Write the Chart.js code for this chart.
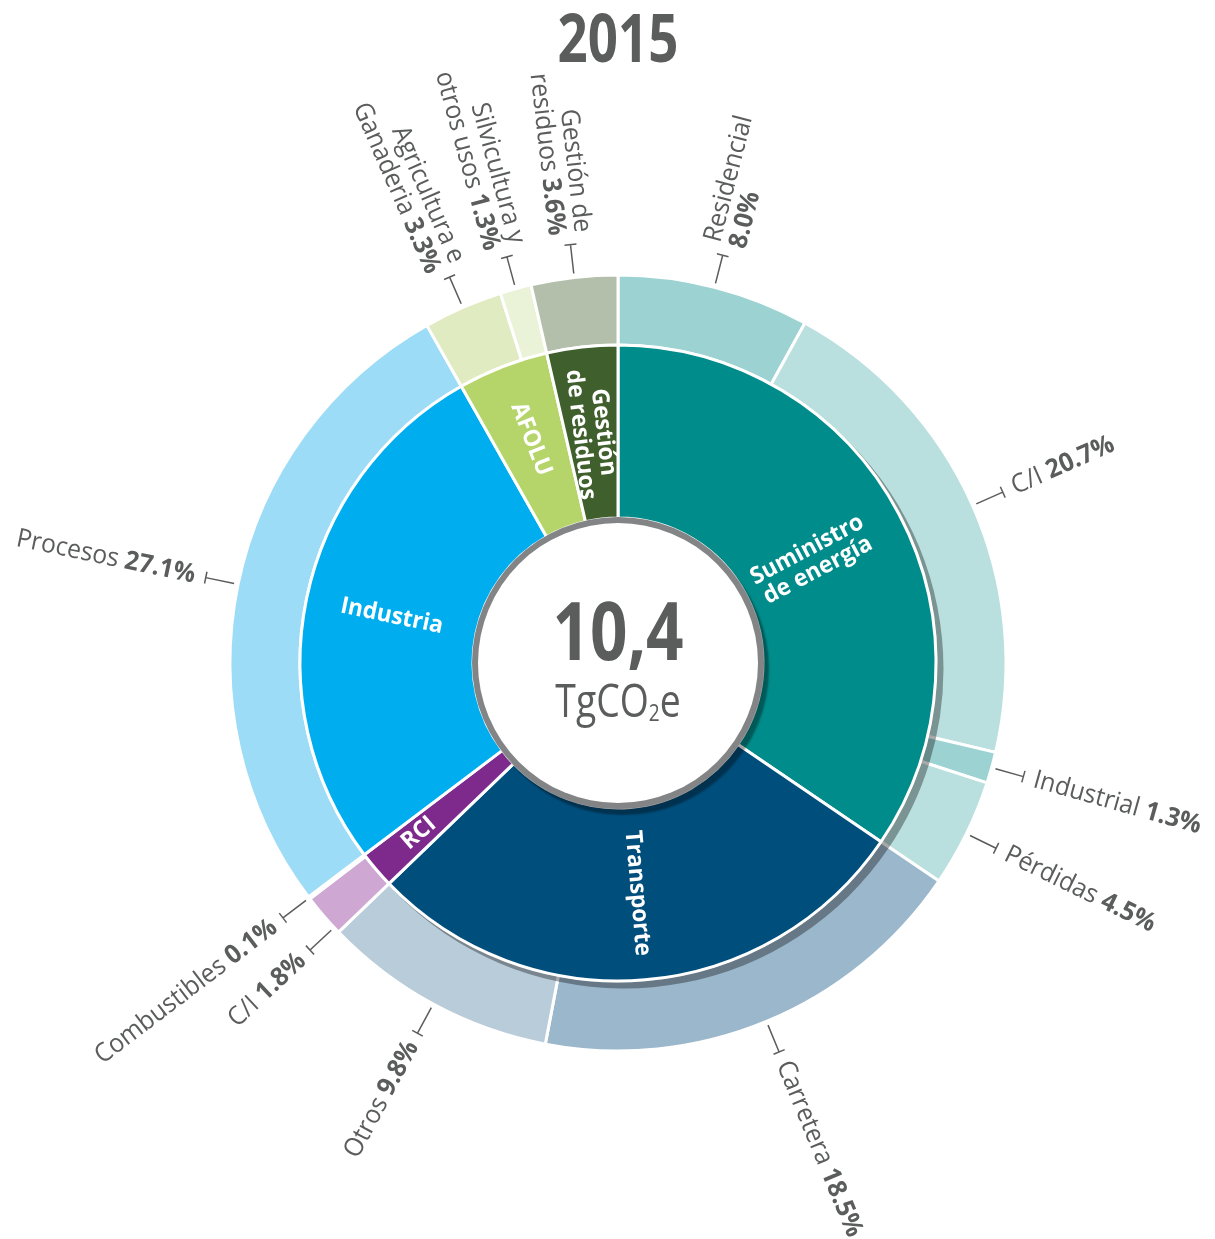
<!DOCTYPE html>
<html>
<head>
<meta charset="utf-8">
<script src="https://cdn.jsdelivr.net/npm/chart.js@4.4.1/dist/chart.umd.min.js"></script>
<style>
html,body{margin:0;padding:0;background:#ffffff;}
#wrap{width:1215px;height:1239px;position:relative;}
canvas{display:block;}
</style>
</head>
<body>
<div id="wrap"><canvas id="c" width="1215" height="1239"></canvas></div>
<script>
// ---------- data ----------
const chartTitle = '2015';
const totalValue = '10,4';
const totalUnit = ['TgCO', '2', 'e'];

const sectorLabels = ['Suministro\nde energía', 'Transporte', 'RCI', 'Industria', 'AFOLU', 'Gestión\nde residuos'];
const sectorValues = [34.5, 28.3, 1.9, 27.1, 4.6, 3.6];
const sectorColors = ['#008c8a', '#004e7c', '#7e2a8d', '#00aeef', '#b5d56a', '#3f5f2c'];

const subLabels = ['Residencial\n', 'C/I', 'Industrial', 'Pérdidas', 'Carretera', 'Otros', 'C/I', 'Combustibles',
                   'Procesos', 'Agricultura e\nGanaderia', 'Silvicultura y\notros usos', 'Gestión de\nresiduos'];
const subValues = [8.0, 20.7, 1.3, 4.5, 18.5, 9.8, 1.8, 0.1, 27.1, 3.3, 1.3, 3.6];
const subColors = ['#9cd3d2', '#b9e0df', '#9cd3d2', '#b9e0df', '#9bb7cc', '#b8ccd9', '#cea8d2', '#e4cde8',
                   '#9ddcf6', '#e1ebc1', '#eaf2d8', '#b3bfab'];

// ---------- style ----------
const FONT = '"Open Sans", "Noto Sans", "DejaVu Sans", sans-serif';
const GRAY = '#5b5c5c';

function setFont(ctx, size, bold) { ctx.font = (bold ? '700 ' : '400 ') + size + 'px ' + FONT; }
function richWidth(ctx, segs, size) {
  let w = 0;
  segs.forEach(s => { setFont(ctx, size, s.b); w += ctx.measureText(s.t).width; });
  return w;
}
function drawRich(ctx, segs, size, x, y, align) {
  const w = richWidth(ctx, segs, size);
  let sx = align === 'left' ? x : (align === 'right' ? x - w : x - w / 2);
  ctx.textAlign = 'left';
  segs.forEach(s => { setFont(ctx, size, s.b); ctx.fillText(s.t, sx, y); sx += ctx.measureText(s.t).width; });
}
function radialBlock(ctx, cx, cy, mid, r, lines, size, lineH, mode, color, sx) {
  let a = mid + Math.PI / 2;
  a = ((a % (2 * Math.PI)) + 2 * Math.PI) % (2 * Math.PI);
  const right = a < Math.PI;
  ctx.save();
  ctx.translate(cx, cy);
  ctx.rotate(right ? mid : mid + Math.PI);
  const x = right ? r : -r;
  const al = mode === 'center' ? 'center' : (right ? 'left' : 'right');
  ctx.textBaseline = 'middle';
  ctx.fillStyle = color;
  const n = lines.length;
  lines.forEach((segs, i) => {
    const y = (i - (n - 1) / 2) * lineH;
    ctx.save();
    ctx.translate(x, y);
    ctx.scale(sx, 1);
    drawRich(ctx, segs, size, 0, 0, al);
    ctx.restore();
  });
  ctx.restore();
}

const innerRadiusOverride = {0: 220, 2: 262, 4: 240};
const outerAngleNudge = {6: -2.3};

const decor = {
  id: 'decor',
  beforeDatasetDraw(chart, args) {
    if (args.index !== 1) return;
    const ctx = chart.ctx;
    const meta = chart.getDatasetMeta(1);
    ctx.save();
    ctx.fillStyle = 'rgba(0,0,0,0.34)';
    [0, 1].forEach(i => {
      const a = meta.data[i];
      ctx.beginPath();
      ctx.arc(a.x + 6, a.y + 6, a.outerRadius + 1.5, a.startAngle, a.endAngle);
      ctx.arc(a.x + 6, a.y + 6, a.innerRadius, a.endAngle, a.startAngle, true);
      ctx.closePath();
      ctx.fill();
    });
    ctx.restore();
  },
  afterDatasetsDraw(chart) {
    const ctx = chart.ctx;
    const inner = chart.getDatasetMeta(1);
    const outer = chart.getDatasetMeta(0);
    const cx = inner.data[0].x, cy = inner.data[0].y;

    // center disc
    ctx.save();
    ctx.shadowColor = 'rgba(0,0,0,0.36)';
    ctx.shadowOffsetX = 5; ctx.shadowOffsetY = 6; ctx.shadowBlur = 2;
    ctx.fillStyle = '#838485';
    ctx.beginPath(); ctx.arc(cx, cy, 146, 0, Math.PI * 2); ctx.fill();
    ctx.restore();
    ctx.save();
    ctx.fillStyle = '#ffffff';
    ctx.beginPath(); ctx.arc(cx, cy, 140, 0, Math.PI * 2); ctx.fill();
    ctx.restore();

    // center text
    ctx.save();
    ctx.fillStyle = GRAY;
    ctx.textBaseline = 'alphabetic';
    ctx.translate(cx, cy - 3);
    ctx.scale(0.82, 1);
    setFont(ctx, 80, true); ctx.textAlign = 'center';
    ctx.fillText(totalValue, 0, 0);
    ctx.restore();
    ctx.save();
    ctx.fillStyle = GRAY;
    ctx.translate(cx, cy + 54);
    ctx.scale(0.83, 1);
    setFont(ctx, 45, false);
    const w1 = ctx.measureText(totalUnit[0]).width;
    const w3 = ctx.measureText(totalUnit[2]).width;
    setFont(ctx, 23, false);
    const w2 = ctx.measureText(totalUnit[1]).width;
    let x0 = -(w1 + w2 + w3) / 2;
    ctx.textAlign = 'left';
    setFont(ctx, 45, false); ctx.fillText(totalUnit[0], x0, 0);
    setFont(ctx, 23, false); ctx.fillText(totalUnit[1], x0 + w1, 4);
    setFont(ctx, 45, false); ctx.fillText(totalUnit[2], x0 + w1 + w2, 0);
    ctx.restore();

    // inner labels
    inner.data.forEach((arc, i) => {
      const mid = (arc.startAngle + arc.endAngle) / 2;
      const r = innerRadiusOverride[i] !== undefined ? innerRadiusOverride[i] : 231;
      const lines = sectorLabels[i].split('\n').map(t => [{t: t, b: true}]);
      radialBlock(ctx, cx, cy, mid, r, lines, 23.5, 23, 'center', '#ffffff', 0.97);
    });

    // outer ticks and labels
    outer.data.forEach((arc, i) => {
      let mid = (arc.startAngle + arc.endAngle) / 2;
      if (outerAngleNudge[i]) mid += outerAngleNudge[i] * Math.PI / 180;
      const c = Math.cos(mid), s = Math.sin(mid);
      const r0 = arc.outerRadius + 4, r1 = arc.outerRadius + 33;
      ctx.save();
      ctx.strokeStyle = GRAY; ctx.lineWidth = 1.5;
      ctx.beginPath();
      ctx.moveTo(cx + c * r0, cy + s * r0);
      ctx.lineTo(cx + c * r1, cy + s * r1);
      ctx.moveTo(cx + c * r1 - s * 6, cy + s * r1 + c * 6);
      ctx.lineTo(cx + c * r1 + s * 6, cy + s * r1 - c * 6);
      ctx.stroke();
      ctx.restore();
      const names = subLabels[i].split('\n');
      const pct = subValues[i].toFixed(1) + '%';
      const lines = names.map((t, k) => {
        if (k < names.length - 1) return [{t: t, b: false}];
        return t ? [{t: t + ' ', b: false}, {t: pct, b: true}] : [{t: pct, b: true}];
      });
      radialBlock(ctx, cx, cy, mid, arc.outerRadius + 44, lines, 26, 26, 'side', GRAY, 0.95);
    });

    // title
    ctx.save();
    ctx.fillStyle = GRAY;
    ctx.translate(618, 62);
    ctx.scale(0.8, 1);
    setFont(ctx, 66, true);
    ctx.textAlign = 'center';
    ctx.textBaseline = 'alphabetic';
    ctx.fillText(chartTitle, 0, 0);
    ctx.restore();
  }
};

new Chart(document.getElementById('c'), {
  type: 'doughnut',
  data: {
    labels: subLabels,
    datasets: [
      {data: subValues, backgroundColor: subColors, borderColor: '#ffffff', borderWidth: 3, weight: 70, order: 1, clip: false},
      {data: sectorValues, backgroundColor: sectorColors, borderColor: '#ffffff', borderWidth: 3, weight: 173, order: 0, clip: false}
    ]
  },
  options: {
    responsive: false,
    animation: false,
    radius: 388,
    cutout: (145 / 388 * 100) + '%',
    layout: {padding: {left: 21, top: 87, right: 0, bottom: 0}},
    plugins: {legend: {display: false}, tooltip: {enabled: false}, title: {display: false}}
  },
  plugins: [decor]
});
</script>
</body>
</html>
